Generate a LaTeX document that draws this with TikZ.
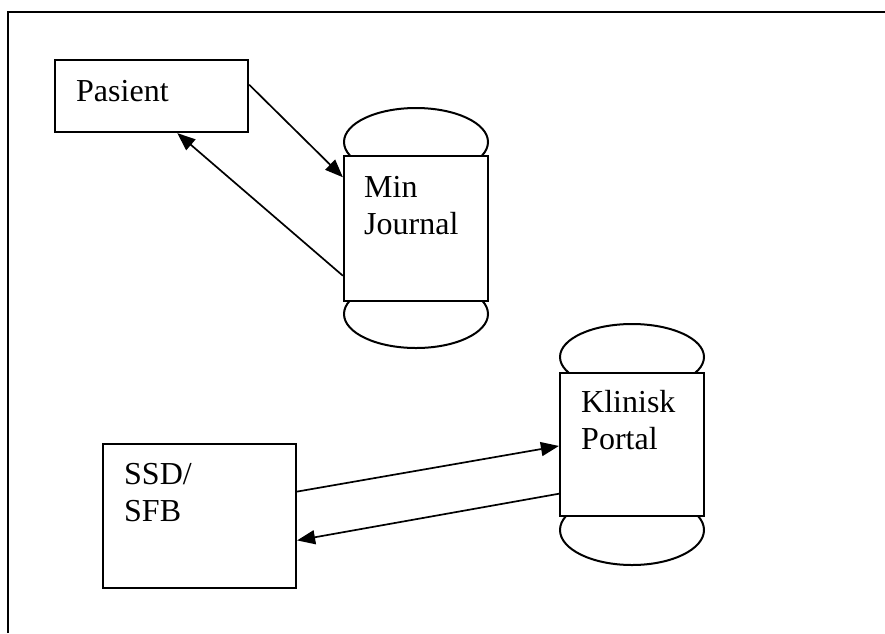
\documentclass[tikz,border=0pt]{standalone}
\usepackage{fontspec}
\setmainfont{Liberation Serif}
\usetikzlibrary{arrows.meta,calc,shapes.geometric}

\tikzset{
  box/.style={draw, line width=2.2pt, fill=white, inner sep=0pt},
  drumend/.style={draw, ellipse, line width=2pt, inner sep=0pt,
              minimum width=144pt},
  % multi-line labels: base anchor sits on the last line
  lbl/.style={anchor=base west, inner sep=0pt, align=left,
              font=\fontsize{32}{36.8}\selectfont},
  flow/.style={line width=1.7pt,
               -{Triangle[length=18pt,width=14pt]}},
}

\begin{document}
\begin{tikzpicture}[x=1pt,y=-1pt]
  \useasboundingbox (0,0) rectangle (885,633);

  % open frame: left and top edges
  \draw[line width=2.4pt] (8,633) -- (8,12) -- (885,12);

  % Pasient
  \node[box, minimum width=193pt, minimum height=72pt] (pas) at (151.5,96) {};
  \node[lbl] (paslbl) at (76,101) {Pasient};

  % Min Journal store
  \node[drumend, minimum height=68pt] (mjtop) at (416,142) {};
  \node[drumend, minimum height=68pt] (mjbot) at (416,314) {};
  \node[box, minimum width=144pt, minimum height=145pt] (mj) at (416,228.5) {};
  \node[lbl] (mjlbl) at (364,234) {Min\\Journal};

  % Klinisk Portal store
  \node[drumend, minimum height=66pt] (kptop) at (632,357) {};
  \node[drumend, minimum height=70pt] (kpbot) at (632,530) {};
  \node[box, minimum width=144pt, minimum height=143pt] (kp) at (632,444.5) {};
  \node[lbl] (kplbl) at (581,449) {Klinisk\\Portal};

  % SSD/SFB
  \node[box, minimum width=193pt, minimum height=144pt] (ssd) at (199.5,516) {};
  \node[lbl] (ssdlbl) at (124,521) {SSD/\\SFB};

  % flows
  \draw[flow] ($(pas.north east)!0.347!(pas.south east)$)
           -- ($(mj.north west)!0.152!(mj.south west)$);
  \draw[flow] ($(mj.north west)!0.821!(mj.south west)$)
           -- ($(pas.south west)!0.632!(pas.south east)$);
  \draw[flow] ($(ssd.north east)!0.333!(ssd.south east)$)
           -- ($(kp.north west)!0.51!(kp.south west)$);
  \draw[flow] ($(kp.north west)!0.839!(kp.south west)$)
           -- ($(ssd.north east)!0.667!(ssd.south east)$);
\end{tikzpicture}
\end{document}
